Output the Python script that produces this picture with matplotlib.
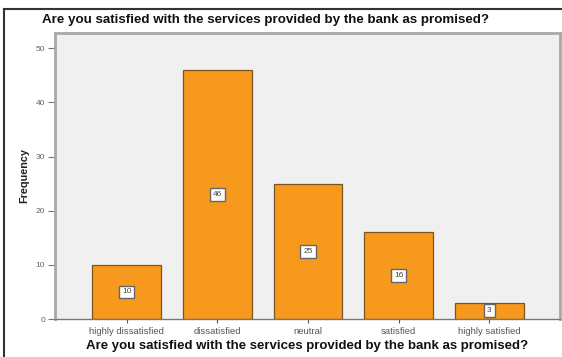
import matplotlib
matplotlib.use("Agg")
import matplotlib.pyplot as plt
from matplotlib.lines import Line2D

categories = ["highly dissatisfied", "dissatisfied", "neutral", "satisfied", "highly satisfied"]
frequency = [10, 46, 25, 16, 3]
y_ticks = [0, 10, 20, 30, 40, 50]
question = "Are you satisfied with the services provided by the bank as promised?"

plt.rcParams["font.family"] = ["Liberation Sans", "DejaVu Sans"]

W, H = 562, 357
fig = plt.figure(figsize=(W / 100, H / 100), dpi=100)
fig.patch.set_facecolor("white")

ax = fig.add_axes([55 / W, 1 - 319 / H, (560 - 55) / W, (319 - 33) / H])
ax.set_facecolor("#f0f0f0")

x = list(range(len(categories)))
ax.bar(x, frequency, width=0.76, color="#f7991d", edgecolor="#7a5420", linewidth=0.9, zorder=2)

for xi, v in zip(x, frequency):
    ax.text(xi, v / 2, str(v), ha="center", va="center", fontsize=6, color="#444444",
            bbox=dict(boxstyle="square,pad=0.35", fc="white", ec="#666666", lw=1.0), zorder=3)

ax.set_xlim(-0.79, 4.78)
ax.set_ylim(0, 52.8)
ax.set_yticks(y_ticks)
ax.set_yticklabels([str(t) for t in y_ticks], fontsize=6, color="#666666")
ax.set_xticks(x)
ax.set_xticklabels(categories, fontsize=6.8, color="#555555")
ax.tick_params(axis="y", length=5, width=0.8, color="#777777", pad=2)
ax.tick_params(axis="x", length=3, width=0.8, color="#555555", pad=3)

for side in ["left", "top", "right"]:
    ax.spines[side].set_color("#a8a8a8")
    ax.spines[side].set_linewidth(2.0)
ax.spines["bottom"].set_color("#777777")
ax.spines["bottom"].set_linewidth(1.0)

ax.set_ylabel("Frequency", fontsize=7.8, fontweight="bold", color="#222222", labelpad=5)
ax.set_xlabel(question, fontsize=9.5, fontweight="bold", color="#111111", labelpad=3)

fig.text(266 / W, 1 - 20 / H, question, ha="center", va="center",
         fontsize=9.6, fontweight="bold", color="#111111")

# outer frame around the chart
fig.add_artist(Line2D([3.5 / W, 3.5 / W], [0, 1 - 8.5 / H], transform=fig.transFigure,
                      color="#333333", lw=1.5))
fig.add_artist(Line2D([3.5 / W, 1], [1 - 8.5 / H, 1 - 8.5 / H], transform=fig.transFigure,
                      color="#333333", lw=1.5))

fig.savefig("out.png", dpi=100)
